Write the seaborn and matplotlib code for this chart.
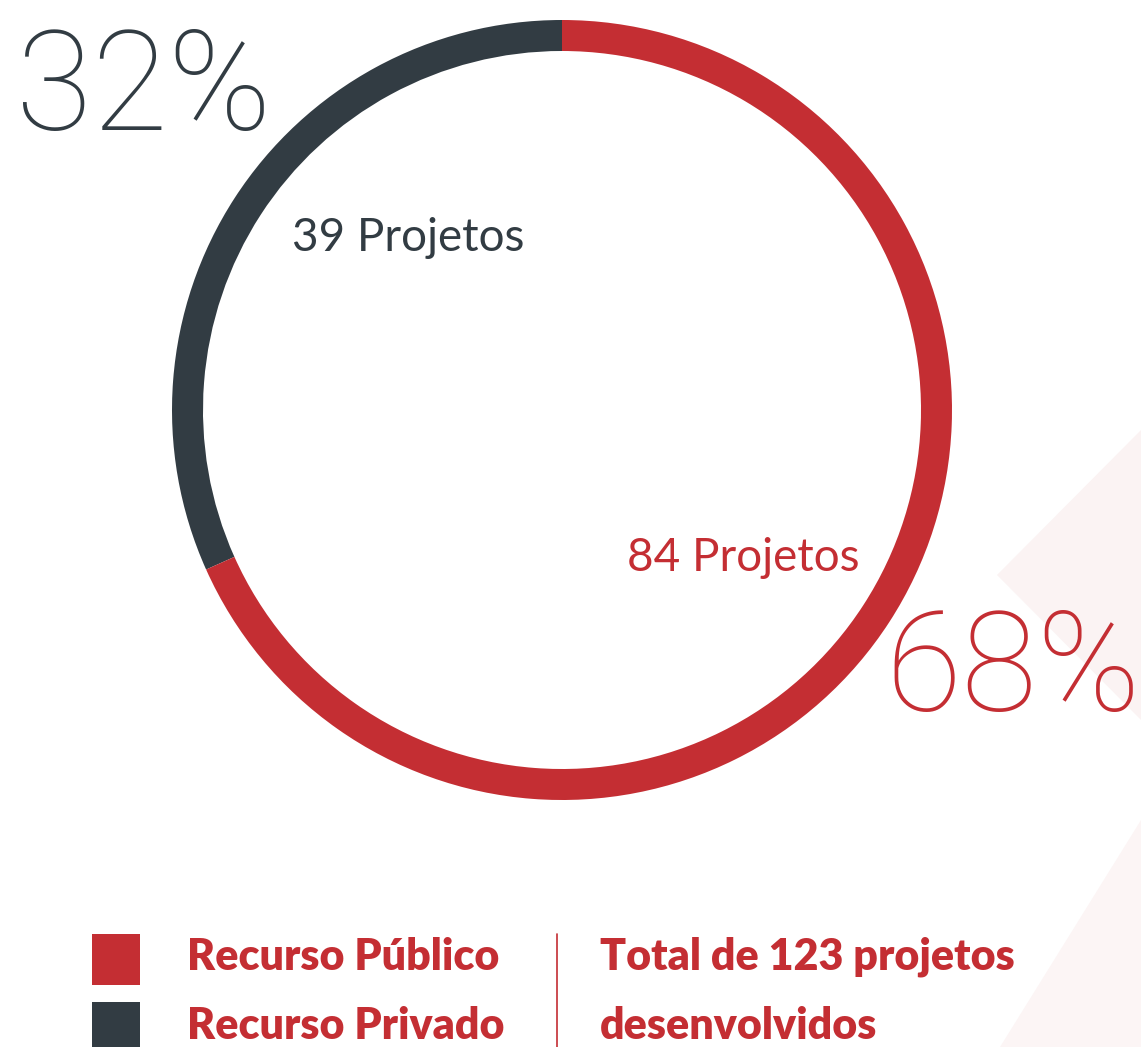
import matplotlib
matplotlib.use("Agg")
import matplotlib.pyplot as plt
import seaborn as sns

# data
labels = ["Recurso Privado", "Recurso Público"]
projects = [39, 84]
percents = ["32%", "68%"]
total = 123

red = "#C42E33"
dark = "#323C43"
sns.set_theme(style="white")
plt.rcParams['font.family'] = ['Lato', 'DejaVu Sans']
colors = sns.color_palette([dark, red])
thin = ['Roboto', 'Lato', 'DejaVu Sans']

W, H = 1141, 1047
fig = plt.figure(figsize=(W / 100, H / 100), dpi=100)
fig.patch.set_facecolor("white")

# background axes in pixel coords
bg = fig.add_axes([0, 0, 1, 1])
bg.set_xlim(0, W)
bg.set_ylim(H, 0)
bg.axis("off")
bg.fill([1141, 997, 1141], [430, 575, 720], color="#FBF3F3", lw=0)
bg.fill([1141, 1000, 1141], [820, 1047, 1047], color="#FCF5F5", lw=0)

# donut
cx, cy, R = 562, 410, 390
ax = fig.add_axes([(cx - 400) / W, 1 - (cy + 400) / H, 800 / W, 800 / H])
ax.pie(projects, colors=colors, startangle=90, counterclock=True,
       radius=R, wedgeprops=dict(width=31, linewidth=0))
ax.set_xlim(-400, 400)
ax.set_ylim(-400, 400)
ax.set_aspect("equal")
ax.axis("off")

# labels
bg.text(16, 92, percents[0], color=dark, fontsize=100, fontweight="light",
        family=thin, ha="left", va="center")
bg.text(1141, 673, percents[1], color=red, fontsize=100, fontweight="light",
        family=thin, ha="right", va="center")
bg.text(292, 238, f"{projects[0]} Projetos", color=dark, fontsize=33,
        fontweight="normal", ha="left", va="center")
bg.text(627, 558, f"{projects[1]} Projetos", color=red, fontsize=33,
        fontweight="normal", ha="left", va="center")

# legend
bg.add_patch(plt.Rectangle((92, 934), 48, 51, color=red, lw=0))
bg.add_patch(plt.Rectangle((92, 1002), 48, 51, color=dark, lw=0))
bg.text(187, 957, labels[1], color=red, fontsize=31, fontweight="heavy",
        ha="left", va="center")
bg.text(187, 1026, labels[0], color=red, fontsize=31, fontweight="heavy",
        ha="left", va="center")
bg.plot([557, 557], [934, 1047], color=red, lw=1.2)
bg.text(600, 957, f"Total de {total} projetos", color=red, fontsize=31,
        fontweight="heavy", ha="left", va="center")
bg.text(600, 1026, "desenvolvidos", color=red, fontsize=31,
        fontweight="heavy", ha="left", va="center")

fig.savefig("out.png", dpi=100, facecolor="white")
